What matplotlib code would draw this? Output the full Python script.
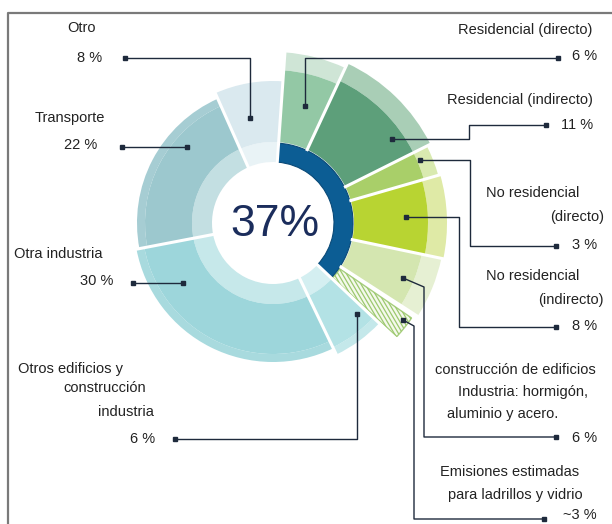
import matplotlib
matplotlib.use("Agg")
import matplotlib.pyplot as plt
from matplotlib.patches import Wedge
import numpy as np

plt.rcParams['font.family'] = ['Liberation Sans', 'DejaVu Sans']

# share of global emissions, clockwise starting from the top
sectors = ['Residencial (directo)', 'Residencial (indirecto)',
           'No residencial (directo)', 'No residencial (indirecto)',
           'Construcción de edificios', 'Ladrillos y vidrio',
           'Otros edificios y construcción industria', 'Otra industria',
           'Transporte', 'Otro']
shares = [6, 11, 3, 8, 6, 3, 6, 30, 22, 8]
share_labels = ['6 %', '11 %', '3 %', '8 %', '6 %', '~3 %', '6 %', '30 %', '22 %', '8 %']
buildings_share = 37

# wedge styling: main colour, inner band, outer band, radii
main_col = ['#93c8a5', '#5d9f7a', '#a9cf69', '#b8d432', '#d4e6b0', 'white',
            '#b3e2e5', '#9dd6db', '#9cc8ce', '#dae9ef']
inner_col = [None, None, None, None, None, None,
             '#d4eff1', '#c6e8ea', '#c3dfe2', '#e9f3f6']
outer_col = ['#cfe5d6', '#a9ceb6', '#d9eab0', '#dfeaa6', '#e6f0d3', None,
             '#c4e8ea', '#a8dade', '#a6cdd3', None]
r_main = [153, 157, 157, 155, 152, 168, 138, 131, 128, 142]
r_out = [171, 176, 172, 174, 172, 168, 146, 139, 136, 142]

W, H = 612, 524
cx, cy = 273, 223
r_hole, r_band = 61, 81

fig = plt.figure(figsize=(W / 100, H / 100), dpi=100)
ax = fig.add_axes([0, 0, 1, 1])
ax.set_xlim(0, W)
ax.set_ylim(H, 0)
ax.set_aspect('equal')
ax.axis('off')

# frame around the graphic
ax.plot([8, 8, W + 5], [H + 5, 13, 13], color='#7a7a7a', lw=1.6)

deg = 360 / sum(shares)
start = 86
edges = start - deg * np.concatenate([[0], np.cumsum(shares)])


def wedge(r, a_hi, a_lo, width, **kw):
    # y axis is flipped, so mirror the angles
    p = Wedge((cx, cy), r, -a_hi, -a_lo, width=width, **kw)
    ax.add_patch(p)
    return p


def hatch_in(patch, step=4.2, slope=1.7, color='#9cc86e'):
    # steep diagonal strokes clipped to the patch
    for x0 in np.arange(cx - 200, cx + 400, step):
        ln, = ax.plot([x0, x0 + 300], [cy - 150, cy - 150 + 300 * slope],
                      color=color, lw=0.9)
        ln.set_clip_path(patch)


for i in range(len(shares)):
    a_hi, a_lo = edges[i], edges[i + 1]
    if inner_col[i]:
        wedge(r_band, a_hi, a_lo, r_band - r_hole, facecolor=inner_col[i], lw=0)
    if outer_col[i]:
        wedge(r_out[i], a_hi, a_lo, r_out[i] - r_main[i], facecolor=outer_col[i], lw=0)
    if main_col[i] == 'white':
        p = wedge(r_main[i], a_hi - 1.6, a_lo + 0.8, r_main[i] - r_band,
                  facecolor='#f4f9ec', edgecolor='#a8cf80', lw=1.0)
        hatch_in(p)
    else:
        wedge(r_main[i], a_hi, a_lo, r_main[i] - r_band, facecolor=main_col[i], lw=0)

# white gaps between sectors
for i, a in enumerate(edges[:-1]):
    r0 = r_band if 0 < i < 6 else r_hole
    t = np.radians(a)
    ax.plot([cx + r0 * np.cos(t), cx + 185 * np.cos(t)],
            [cy - r0 * np.sin(t), cy - 185 * np.sin(t)], color='white', lw=2.2)

# buildings and construction arc
wedge(r_band - 1, start, start - deg * buildings_share, r_band - 1 - r_hole,
      facecolor='#0c5d94', edgecolor='#0a4a78', lw=0.8)
ax.text(cx + 2, cy + 1, f'{buildings_share}%', fontsize=32, color='#1b2d5c',
        ha='center', va='center')

# leader lines: anchor on the wedge, bends, label end
leaders = [
    [(305, 106), (305, 58), (558, 58)],
    [(392, 139), (469, 139), (469, 125), (546, 125)],
    [(420, 160), (470, 160), (470, 246), (556, 246)],
    [(406, 217), (459, 217), (459, 327), (556, 327)],
    [(403, 278), (424, 287), (424, 437), (556, 437)],
    [(403, 320), (414, 326), (414, 519), (544, 519)],
    [(357, 314), (357, 439), (175, 439)],
    [(183, 283), (133, 283)],
    [(187, 147), (122, 147)],
    [(250, 118), (250, 58), (125, 58)],
]
ink = '#1e2a3c'
for pts in leaders:
    xs, ys = zip(*pts)
    ax.plot(xs, ys, color=ink, lw=1.0)
    ax.plot([xs[0], xs[-1]], [ys[0], ys[-1]], 's', color=ink, ms=3)

# label positions: (x, y, ha) for the name lines, then the value line
name_lines = [
    [('Residencial (directo)', 592, 30, 'right')],
    [('Residencial (indirecto)', 593, 100, 'right')],
    [('No residencial', 486, 193, 'left'), ('(directo)', 604, 217, 'right')],
    [('No residencial', 486, 276, 'left'), ('(indirecto)', 604, 300, 'right')],
    [('construcción de edificios', 435, 370, 'left'),
     ('Industria: hormigón,', 458, 392, 'left'),
     ('aluminio y acero.', 447, 414, 'left')],
    [('Emisiones estimadas', 440, 472, 'left'),
     ('para ladrillos y vidrio', 448, 495, 'left')],
    [('Otros edificios y', 18, 369, 'left'), ('construcción', 63, 388, 'left'),
     ('industria', 98, 412, 'left')],
    [('Otra industria', 14, 254, 'left')],
    [('Transporte', 70, 118, 'center')],
    [('Otro', 81, 28, 'center')],
]
value_pos = [(597, 56), (593, 125), (597, 245), (597, 326), (597, 438),
             (597, 515), (155, 439), (113, 281), (97, 145), (102, 58)]

txt = '#222222'
for lines, lab, (vx, vy) in zip(name_lines, share_labels, value_pos):
    for s, x, y, ha in lines:
        ax.text(x, y, s, fontsize=10.5, color=txt, ha=ha, va='center')
    ax.text(vx, vy, lab, fontsize=10.5, color=txt, ha='right', va='center')

fig.savefig('out.png', dpi=100, facecolor='white')
